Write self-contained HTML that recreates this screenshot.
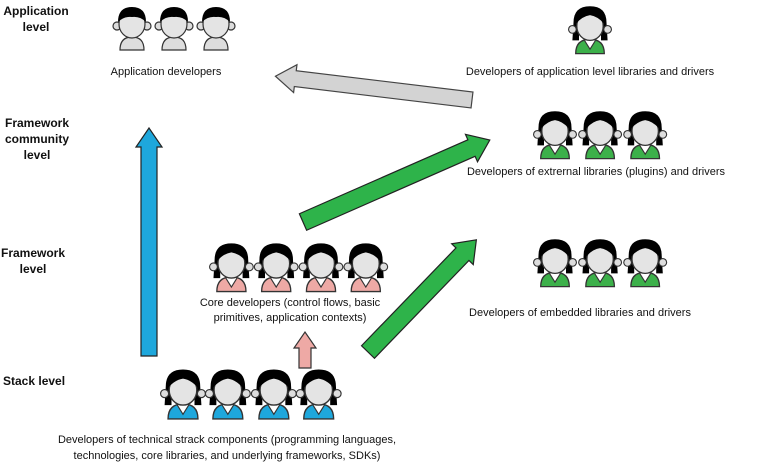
<!DOCTYPE html>
<html><head><meta charset="utf-8"><style>
body{margin:0;background:#fff;}
svg{display:block;}
text{font-family:"Liberation Sans",sans-serif;font-size:11px;fill:#111;}
.b{font-weight:bold;font-size:12px;}
</style></head><body>
<svg width="767" height="463" viewBox="0 0 767 463" xmlns="http://www.w3.org/2000/svg">
<defs>
<g id="m">
 <circle cx="5" cy="22" r="4" fill="#ddd" stroke="#333" stroke-width="1.2"/>
 <circle cx="35" cy="22" r="4" fill="#ddd" stroke="#333" stroke-width="1.2"/>
 <path d="M8 46 Q8 33 20 33 Q32 33 32 46 Z" fill="#ddd" stroke="#333" stroke-width="1.2"/>
 <ellipse cx="20" cy="20" rx="13" ry="14" fill="#e4e4e4" stroke="#333" stroke-width="1.2"/>
 <path d="M6 18 Q6 3 20 3 Q34 3 34 18 Q28 12 20 13 Q12 12 6 18Z" fill="#000"/>
</g>
<g id="f">
 <path d="M5 18 Q5 3 20 3 Q35 3 35 18 L36 34 L30 34 L30 18 L10 18 L10 34 L4 34Z" fill="#000"/>
 <circle cx="4" cy="24" r="3.5" fill="#ddd" stroke="#333" stroke-width="1"/>
 <circle cx="36" cy="24" r="3.5" fill="#ddd" stroke="#333" stroke-width="1"/>
 <path d="M7 46 Q7 33 20 33 Q33 33 33 46 Z" fill="currentColor" stroke="#333" stroke-width="1.2"/>
 <path d="M15 34 L20 42 L25 34" fill="#fff" stroke="#333" stroke-width="1"/>
 <ellipse cx="20" cy="21" rx="12" ry="13" fill="#e4e4e4" stroke="#333" stroke-width="1.2"/>
 <path d="M7 19 Q7 5 20 5 Q33 5 33 19 Q27 12 20 11 Q13 12 7 19Z" fill="#000"/>
</g>
</defs>
<text class="b" x="36" y="15" text-anchor="middle">Application</text>
<text class="b" x="36" y="31" text-anchor="middle">level</text>
<text class="b" x="37" y="127" text-anchor="middle">Framework</text>
<text class="b" x="37" y="143" text-anchor="middle">community</text>
<text class="b" x="37" y="159" text-anchor="middle">level</text>
<text class="b" x="33" y="257" text-anchor="middle">Framework</text>
<text class="b" x="33" y="273" text-anchor="middle">level</text>
<text class="b" x="3" y="385">Stack level</text>
<g transform="translate(149,356) rotate(-90)"><polygon points="0,-8 209,-8 209,-13 228,0 209,13 209,8 0,8" fill="#1ea7dc" stroke="#222" stroke-width="1.2"/></g>
<g transform="translate(472,100) rotate(186.9)"><polygon points="0,-8 178,-8 178,-14 198,0 178,14 178,8 0,8" fill="#d3d3d3" stroke="#444" stroke-width="1.2"/></g>
<g transform="translate(303,222) rotate(-23.7)"><polygon points="0,-9 184,-9 184,-15 204,0 184,15 184,9 0,9" fill="#2eb34a" stroke="#222" stroke-width="1.2"/></g>
<g transform="translate(368,352) rotate(-46)"><polygon points="0,-9 136,-9 136,-15 156,0 136,15 136,9 0,9" fill="#2eb34a" stroke="#222" stroke-width="1.2"/></g>
<g transform="translate(305,368) rotate(-90)"><polygon points="0,-6 20,-6 20,-11 36,0 20,11 20,6 0,6" fill="#eea9a5" stroke="#333" stroke-width="1.2"/></g>
<use href="#m" x="112" y="4"/><use href="#m" x="154" y="4"/><use href="#m" x="196" y="4"/>
<text x="166" y="75" text-anchor="middle">Application developers</text>
<g transform="translate(568,3) scale(1.1)"><use href="#f" x="0" y="0" color="#3cb04a"/></g>
<text x="590" y="75" text-anchor="middle">Developers of application level libraries and drivers</text>
<g transform="translate(533,108) scale(1.1)">
<use href="#f" x="0" y="0" color="#3cb04a"/><use href="#f" x="41" y="0" color="#3cb04a"/><use href="#f" x="82" y="0" color="#3cb04a"/></g>
<text x="596" y="175" text-anchor="middle">Developers of extrernal libraries (plugins) and drivers</text>
<g transform="translate(533,236) scale(1.1)">
<use href="#f" x="0" y="0" color="#3cb04a"/><use href="#f" x="41" y="0" color="#3cb04a"/><use href="#f" x="82" y="0" color="#3cb04a"/></g>
<text x="580" y="316" text-anchor="middle">Developers of embedded libraries and drivers</text>
<g transform="translate(209,240) scale(1.12)">
<use href="#f" x="0" y="0" color="#eea9a5"/><use href="#f" x="40" y="0" color="#eea9a5"/><use href="#f" x="80" y="0" color="#eea9a5"/><use href="#f" x="120" y="0" color="#eea9a5"/>
</g>
<text x="290" y="306" text-anchor="middle">Core developers (control flows, basic</text>
<text x="290" y="321" text-anchor="middle">primitives, application contexts)</text>
<g transform="translate(160,366) scale(1.15)">
<use href="#f" x="0" y="0" color="#1ea7dc"/><use href="#f" x="39" y="0" color="#1ea7dc"/><use href="#f" x="79" y="0" color="#1ea7dc"/><use href="#f" x="118" y="0" color="#1ea7dc"/>
</g>
<text x="227" y="443" text-anchor="middle">Developers of technical strack components (programming languages,</text>
<text x="227" y="459" text-anchor="middle">technologies, core libraries, and underlying frameworks, SDKs)</text>
</svg>
</body></html>
